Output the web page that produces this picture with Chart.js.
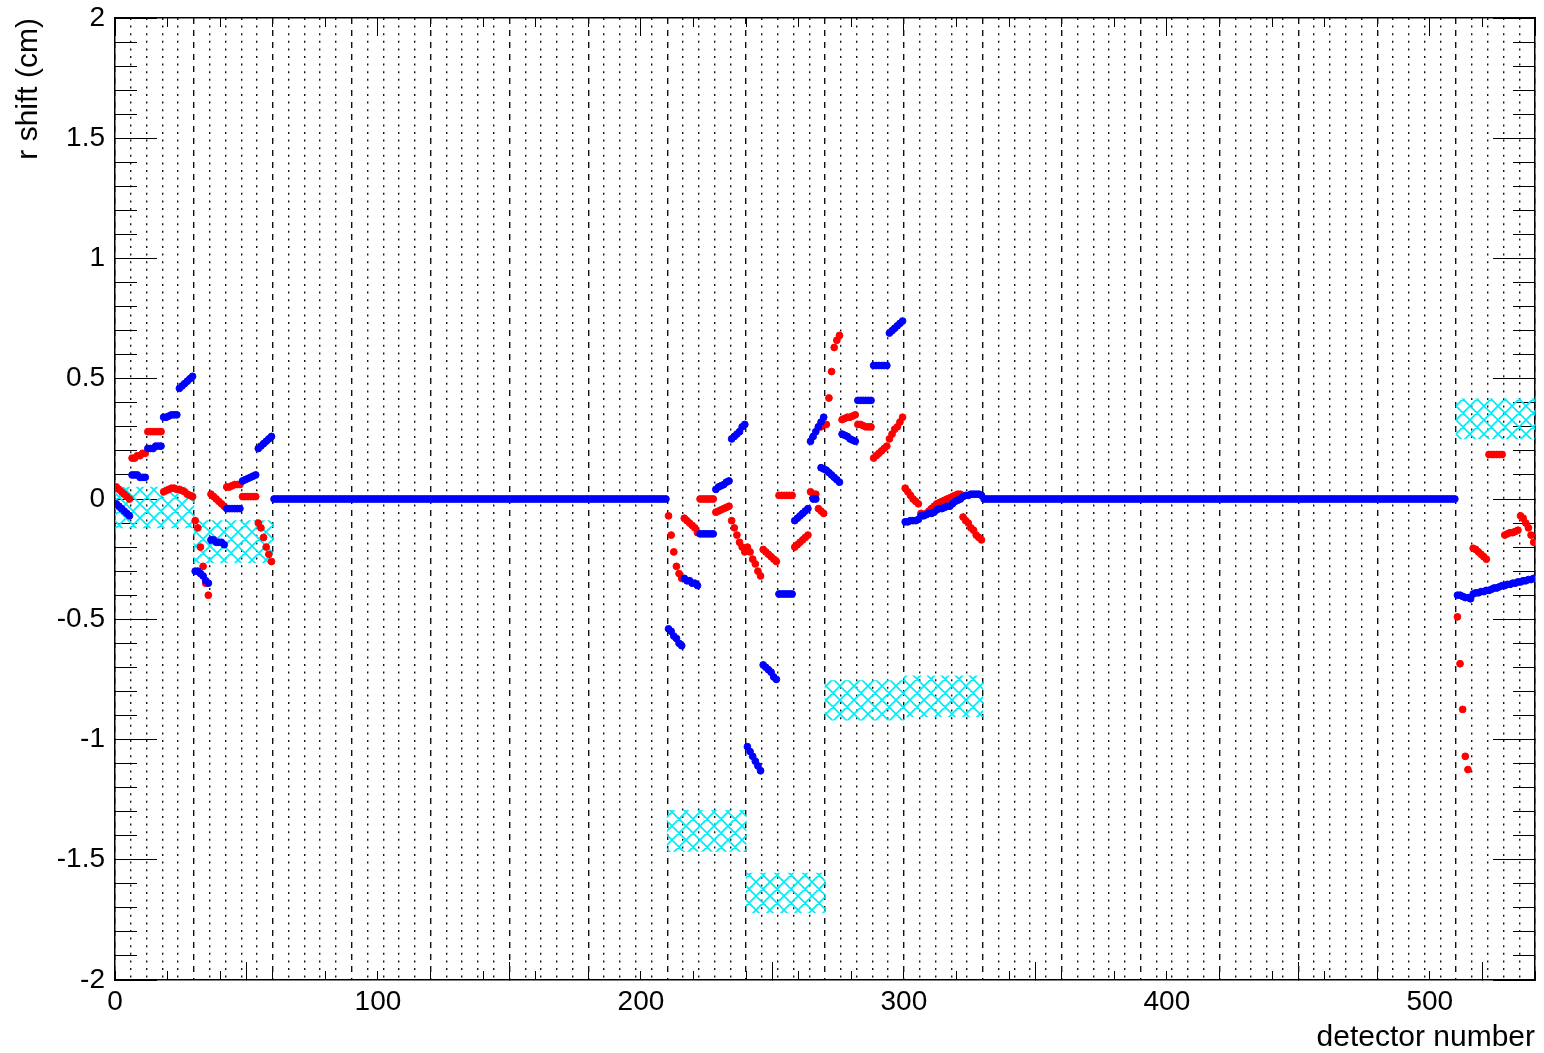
<!DOCTYPE html>
<html>
<head>
<meta charset="utf-8">
<script src="https://cdn.jsdelivr.net/npm/chart.js@4.4.1/dist/chart.umd.min.js"></script>
<style>
html,body{margin:0;padding:0;background:#fff;}
canvas{display:block;}
</style>
</head>
<body>
<canvas id="c" width="1544" height="1053"></canvas>
<script>
// ---------------- DATA ----------------
// detector ranges
const regionStartA = 0;     // detectors 0..59
const regionStartFlatA = 60; // detectors 60..209
const regionStartB = 210;   // detectors 210..329
const regionStartFlatB = 330; // detectors 330..509
const regionStartC = 510;   // detectors 510..539

// blue series, detectors 0..59
const blueRegionA = [
  -0.02,-0.03,-0.04,-0.05,-0.06,-0.07,
  0.10,0.10,0.10,0.09,0.09,0.09,
  0.21,0.21,0.21,0.22,0.22,0.22,
  0.34,0.34,0.345,0.35,0.35,0.35,
  0.46,0.47,0.48,0.49,0.50,0.51,
  -0.30,-0.30,-0.31,-0.32,-0.34,-0.35,
  -0.17,-0.17,-0.18,-0.18,-0.18,-0.19,
  -0.04,-0.04,-0.04,-0.04,-0.04,-0.04,
  0.075,0.08,0.085,0.09,0.095,0.10,
  0.21,0.22,0.23,0.24,0.25,0.26
];
// red series, detectors 0..59
const redRegionA = [
  0.05,0.04,0.03,0.02,0.01,0.00,
  0.17,0.17,0.18,0.18,0.19,0.19,
  0.28,0.28,0.28,0.28,0.28,0.28,
  0.03,0.035,0.04,0.045,0.045,0.04,
  0.04,0.035,0.03,0.02,0.015,0.01,
  -0.09,-0.12,-0.20,-0.28,-0.35,-0.40,
  0.02,0.01,0.00,-0.01,-0.02,-0.03,
  0.05,0.05,0.055,0.06,0.06,0.06,
  0.01,0.01,0.01,0.01,0.01,0.01,
  -0.10,-0.12,-0.16,-0.20,-0.23,-0.26
];
// blue series, detectors 60..209 (flat)
const blueFlatA = [
  0,0,0,0,0,0,0,0,0,0,0,0,0,0,0,0,0,0,0,0,0,0,0,0,0,0,0,0,0,0,
  0,0,0,0,0,0,0,0,0,0,0,0,0,0,0,0,0,0,0,0,0,0,0,0,0,0,0,0,0,0,
  0,0,0,0,0,0,0,0,0,0,0,0,0,0,0,0,0,0,0,0,0,0,0,0,0,0,0,0,0,0,
  0,0,0,0,0,0,0,0,0,0,0,0,0,0,0,0,0,0,0,0,0,0,0,0,0,0,0,0,0,0,
  0,0,0,0,0,0,0,0,0,0,0,0,0,0,0,0,0,0,0,0,0,0,0,0,0,0,0,0,0,0
];
// blue series, detectors 210..329
const blueRegionB = [
  -0.54,-0.55,-0.57,-0.58,-0.60,-0.61,
  -0.33,-0.34,-0.34,-0.35,-0.35,-0.36,
  -0.145,-0.145,-0.145,-0.145,-0.145,-0.145,
  0.04,0.05,0.055,0.06,0.07,0.075,
  0.25,0.26,0.27,0.28,0.30,0.31,
  -1.03,-1.05,-1.07,-1.09,-1.11,-1.13,
  -0.69,-0.70,-0.71,-0.72,-0.74,-0.75,
  -0.395,-0.395,-0.395,-0.395,-0.395,-0.395,
  -0.09,-0.08,-0.07,-0.06,-0.05,-0.04,
  0.24,0.26,0.28,0.30,0.32,0.34,
  0.12,0.11,0.10,0.09,0.08,0.07,
  0.27,0.265,0.26,0.25,0.245,0.24,
  0.41,0.41,0.41,0.41,0.41,0.41,
  0.555,0.555,0.555,0.555,0.555,0.555,
  0.69,0.70,0.71,0.72,0.73,0.74,
  -0.095,-0.095,-0.09,-0.09,-0.09,-0.085,
  -0.07,-0.07,-0.065,-0.06,-0.06,-0.055,
  -0.045,-0.04,-0.04,-0.035,-0.03,-0.03,
  -0.02,-0.01,-0.005,0.00,0.01,0.015,
  0.015,0.02,0.02,0.02,0.02,0.015
];
// red series, detectors 210..329
const redRegionB = [
  -0.07,-0.15,-0.22,-0.28,-0.31,-0.33,
  -0.08,-0.09,-0.10,-0.11,-0.12,-0.14,
  0.00,0.00,0.00,0.00,0.00,0.00,
  -0.055,-0.05,-0.045,-0.04,-0.035,-0.03,
  -0.09,-0.12,-0.15,-0.18,-0.20,-0.22,
  -0.20,-0.22,-0.25,-0.27,-0.30,-0.32,
  -0.21,-0.22,-0.23,-0.24,-0.25,-0.26,
  0.015,0.015,0.015,0.015,0.015,0.015,
  -0.20,-0.19,-0.18,-0.17,-0.16,-0.15,
  0.03,0.02,0.02,-0.04,-0.05,-0.06,
  0.31,0.42,0.53,0.63,0.66,0.68,
  0.33,0.335,0.34,0.34,0.345,0.35,
  0.31,0.31,0.305,0.30,0.30,0.30,
  0.17,0.18,0.19,0.20,0.21,0.22,
  0.25,0.27,0.29,0.30,0.32,0.34,
  0.045,0.03,0.015,0.00,-0.01,-0.02,
  -0.06,-0.065,-0.06,-0.05,-0.04,-0.03,
  -0.02,-0.015,-0.01,-0.005,0.00,0.005,
  0.01,0.015,0.02,0.02,-0.075,-0.09,
  -0.10,-0.12,-0.13,-0.15,-0.16,-0.17
];
// blue series, detectors 330..509 (flat)
const blueFlatB = [
  0,0,0,0,0,0,0,0,0,0,0,0,0,0,0,0,0,0,0,0,0,0,0,0,0,0,0,0,0,0,
  0,0,0,0,0,0,0,0,0,0,0,0,0,0,0,0,0,0,0,0,0,0,0,0,0,0,0,0,0,0,
  0,0,0,0,0,0,0,0,0,0,0,0,0,0,0,0,0,0,0,0,0,0,0,0,0,0,0,0,0,0,
  0,0,0,0,0,0,0,0,0,0,0,0,0,0,0,0,0,0,0,0,0,0,0,0,0,0,0,0,0,0,
  0,0,0,0,0,0,0,0,0,0,0,0,0,0,0,0,0,0,0,0,0,0,0,0,0,0,0,0,0,0,
  0,0,0,0,0,0,0,0,0,0,0,0,0,0,0,0,0,0,0,0,0,0,0,0,0,0,0,0,0,0
];
// blue series, detectors 510..539
const blueRegionC = [
  -0.40,-0.40,-0.405,-0.41,-0.41,-0.415,
  -0.395,-0.39,-0.39,-0.385,-0.385,-0.38,
  -0.38,-0.375,-0.37,-0.37,-0.365,-0.36,
  -0.36,-0.355,-0.355,-0.35,-0.35,-0.345,
  -0.345,-0.34,-0.34,-0.335,-0.335,-0.33
];
// red series, detectors 510..539
const redRegionC = [
  -0.49,-0.685,-0.875,-1.07,-1.125,null,
  -0.205,-0.21,-0.22,-0.23,-0.24,-0.25,
  0.185,0.185,0.185,0.185,0.185,0.185,
  -0.15,-0.145,-0.14,-0.14,-0.135,-0.13,
  -0.07,-0.08,-0.10,-0.12,-0.15,-0.18
];
// additional overlapping points near detector 265-270
const extraBlueDet = [265, 266, 268, 269];
const extraBlueVal = [0.00, 0.00, 0.13, 0.125];
const extraRedDet = [267, 268, 269];
const extraRedVal = [0.30, 0.30, 0.31];

// cyan hatched bands: first detector of each 30-detector block, low and high edge
const bandStart = [0, 30, 210, 240, 270, 300, 510];
const bandLow   = [-0.12, -0.265, -1.465, -1.72, -0.92, -0.905, 0.25];
const bandHigh  = [0.05, -0.09, -1.295, -1.555, -0.755, -0.735, 0.417];
const bandWidth = 30;

// axis ranges
const xMin = 0, xMax = 540, yMin = -2, yMax = 2;

// ---------------- BUILD ----------------
function toPoints(vals, start) {
  const out = [];
  vals.forEach((v, i) => { if (v !== null) out.push({x: start + i + 0.5, y: v}); });
  return out;
}
const bluePoints = [].concat(
  toPoints(blueRegionA, regionStartA),
  toPoints(blueFlatA, regionStartFlatA),
  toPoints(blueRegionB, regionStartB),
  toPoints(blueFlatB, regionStartFlatB),
  toPoints(blueRegionC, regionStartC),
  extraBlueDet.map((d, i) => ({x: d + 0.5, y: extraBlueVal[i]}))
);
const redPoints = [].concat(
  toPoints(redRegionA, regionStartA),
  toPoints(redRegionB, regionStartB),
  toPoints(redRegionC, regionStartC),
  extraRedDet.map((d, i) => ({x: d + 0.5, y: extraRedVal[i]}))
);
const bandData = bandStart.map((s, i) => ({x: s + bandWidth / 2, y: [bandLow[i], bandHigh[i]]}));

// hatch pattern
const pc = document.createElement('canvas');
const T = 14;
pc.width = T; pc.height = T;
const g = pc.getContext('2d');
g.strokeStyle = 'rgb(0,236,246)';
g.lineWidth = 1.7;
g.beginPath();
for (const k of [-T, 0, T]) {
  g.moveTo(k, 0); g.lineTo(k + T, T);
  g.moveTo(k, T); g.lineTo(k + T, 0);
}
g.stroke();
const hatch = g.createPattern(pc, 'repeat');

Chart.defaults.font.family = '"Liberation Sans", Arial, Helvetica, sans-serif';
Chart.defaults.color = '#000';

function zeroPad(s) { s.paddingTop = 0; s.paddingBottom = 0; s.paddingLeft = 0; s.paddingRight = 0; }

function tickAxis(position, step, len, weight, fitProp) {
  const isX = position === 'top' || position === 'bottom';
  return {
    type: 'linear', position, weight,
    min: isX ? xMin : yMin, max: isX ? xMax : yMax, offset: false,
    ticks: {display: false, stepSize: step, maxTicksLimit: 1000, autoSkip: false, padding: 0},
    grid: {drawOnChartArea: false, drawTicks: true, tickLength: len, tickColor: '#000', tickWidth: 1},
    border: {display: false},
    afterFit: s => { s[fitProp] = 0; zeroPad(s); }
  };
}
function gridAxis(step, dash, skipEvery, width) {
  return {
    type: 'linear', position: 'top', weight: 5,
    min: xMin, max: xMax, offset: false,
    ticks: {display: false, stepSize: step, maxTicksLimit: 1000, autoSkip: false, padding: 0},
    grid: {
      drawOnChartArea: true, drawTicks: false, lineWidth: width,
      color: ctx => (skipEvery && Math.round(ctx.tick.value) % skipEvery === 0) ? 'rgba(0,0,0,0)' : '#111'
    },
    border: {display: false, dash: dash},
    afterFit: s => { s.height = 0; zeroPad(s); }
  };
}

new Chart(document.getElementById('c'), {
  type: 'scatter',
  data: {
    datasets: [
      {
        type: 'scatter', label: 'blue', data: bluePoints,
        backgroundColor: '#0000ff', borderColor: '#0000ff',
        pointRadius: 3.4, pointBorderWidth: 1, pointHoverRadius: 3.4, order: 0
      },
      {
        type: 'scatter', label: 'red', data: redPoints,
        backgroundColor: '#ff0000', borderColor: '#ff0000',
        pointRadius: 3.4, pointBorderWidth: 1, pointHoverRadius: 3.4, order: 1
      },
      {
        type: 'bar', label: 'band', data: bandData,
        backgroundColor: hatch, borderWidth: 0,
        barPercentage: 1, categoryPercentage: 1, order: 2
      }
    ]
  },
  options: {
    responsive: false, animation: false, events: [],
    layout: {padding: {top: 18, right: 9, bottom: 0, left: 0}},
    plugins: {legend: {display: false}, tooltip: {enabled: false}},
    scales: {
      x: {
        type: 'linear', position: 'bottom', weight: 1,
        min: xMin, max: xMax, offset: false,
        ticks: {
          stepSize: 100, maxTicksLimit: 1000, autoSkip: false, maxRotation: 0,
          padding: 23, color: '#000', font: {size: 28},
          callback: v => (Math.round(v) % 100 === 0 ? String(v) : '')
        },
        grid: {drawOnChartArea: false, drawTicks: true, tickLength: -18, tickColor: '#000', tickWidth: 1},
        border: {display: true, color: '#000', width: 1.5},
        title: {display: true, text: 'detector number', align: 'end', color: '#000',
                font: {size: 30, lineHeight: 1}, padding: {top: 0, bottom: 0}},
        afterFit: s => { s.height = 73; zeroPad(s); }
      },
      xMinor: tickAxis('bottom', 20, -9, 0, 'height'),
      xTop: Object.assign(tickAxis('top', 100, -18, 0, 'height'), {border: {display: true, color: '#000', width: 1.5}}),
      xTopMinor: tickAxis('top', 20, -9, 1, 'height'),
      xDot: gridAxis(6, [2, 5.6], 30, 1.4),
      xDash: gridAxis(30, [6, 6], 0, 1.4),
      y: {
        type: 'linear', position: 'left', weight: 1,
        min: yMin, max: yMax,
        ticks: {
          stepSize: 0.5, maxTicksLimit: 1000, autoSkip: false,
          padding: 52, color: '#000', font: {size: 28},
          callback: v => String(Math.round(v * 10) / 10)
        },
        grid: {drawOnChartArea: false, drawTicks: true, tickLength: -42, tickColor: '#000', tickWidth: 1},
        border: {display: true, color: '#000', width: 1.5},
        title: {display: true, text: 'r shift (cm)', align: 'end', color: '#000',
                font: {size: 30, lineHeight: 1.2}, padding: {top: 11, bottom: 0}},
        afterFit: s => { s.width = 115; zeroPad(s); }
      },
      yMinor: tickAxis('left', 0.1, -22, 0, 'width'),
      yRight: Object.assign(tickAxis('right', 0.5, -42, 0, 'width'), {border: {display: true, color: '#000', width: 1.5}}),
      yRightMinor: tickAxis('right', 0.1, -22, 1, 'width')
    }
  }
});
</script>
</body>
</html>
